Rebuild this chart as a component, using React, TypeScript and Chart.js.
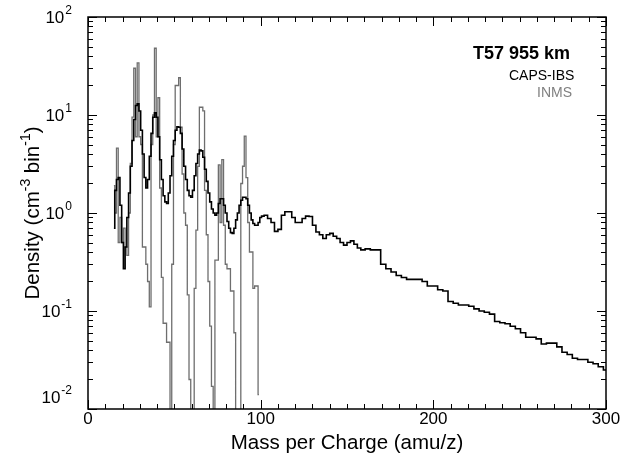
import React, { useEffect, useRef } from 'react';
import { Chart, registerables } from 'chart.js';

Chart.register(...registerables);

// INMS spectrum (1-amu bins)
const inmsMass = [
  15, 16, 17, 18, 19, 20, 21, 22, 23, 24, 25, 26, 27, 28, 29, 30, 31, 32, 33, 34,
  35, 36, 37, 38, 39, 40, 41, 42, 43, 44, 45, 46, 47, 48, 49, 50, 51, 52, 53, 54,
  55, 56, 57, 58, 59, 60, 61, 62, 63, 64, 65, 66, 67, 68, 69, 70, 71, 72, 73, 74,
  75, 76, 77, 78, 79, 80, 81, 82, 83, 84, 85, 86, 87, 88, 89, 90, 91, 92, 93, 94,
  95, 96, 97, 98, 99,
];
const inmsDensity = [
  1.9, 1.0, 4.6, 0.5, 0.9, 0.5, 0.7, 0.45, 0.37, 1.0, 3.2, 9.5, 30, 6, 34, 6, 5, 0.45, 0.45, 0.3,
  0.2, 0.11, 5, 10, 48, 6, 15, 1.8, 0.22, 0.075, 0.075, 0.048, 0.048, 0.001, 0.3, 5, 20, 20, 24, 7.5,
  2.5, 1.0, 0.75, 0.146, 0.02, 0.001, 0.001, 0.17, 0.67, 3, 12, 12, 11, 1.7, 0.6, 0.2, 0.07, 0.017, 0.001, 0.33,
  0.33, 3.1, 0.8, 3.5, 0.75, 0.3, 0.27, 0.27, 0.16, 0.16, 0.06, 0.001, 0.001, 0.001, 2, 3, 6.1, 2.3, 0.8, 0.4,
  0.4, 0.17, 0.18, 0.18, 0.014,
];

// CAPS-IBS spectrum (bin centres)
const capsMass = [
  15, 16, 17, 18, 19, 20, 21, 22, 23, 24, 25, 26, 27, 28, 29, 30, 31, 32, 33, 34,
  35, 36, 37, 38, 39, 40, 41, 42, 43, 44, 45, 46, 47, 48, 49, 50, 51, 52, 53, 54,
  55, 56, 57, 58, 59, 60, 61, 62, 63, 64, 65, 66, 67, 68, 69, 70, 71, 72, 73, 74,
  75, 76, 77, 78, 79, 80, 81, 82, 83, 84, 85, 86, 87, 88, 89, 90, 91, 92, 93, 94,
  95, 96, 97, 98, 99, 100,
  101, 103, 105, 107, 109, 111, 113, 115, 117, 119, 121, 123, 125, 127, 129, 131, 133, 135, 137, 139,
  141, 143, 145, 147, 149, 151, 153, 155, 157, 159,
  162, 165, 168, 171, 174, 177, 180, 183, 186, 189, 192, 195, 198, 201, 204, 207, 210, 213, 216, 219,
  222, 225, 228, 231, 234, 237, 240, 243, 246, 249, 252, 255, 258, 261, 264, 267, 270, 273, 276, 279,
  282, 285, 288, 291, 294, 297, 300,
];
const capsDensity = [
  0.7, 1.7, 2.2, 2.3, 1.2, 0.5, 0.27, 0.45, 0.9, 1.6, 3, 5.5, 9, 12.5, 13, 11, 7, 4, 2.3, 1.8,
  2.2, 3.8, 6.5, 9.5, 10.5, 9.5, 6, 3.5, 2.2, 1.5, 1.3, 1.25, 1.6, 2.4, 3.8, 5.5, 7, 7.6, 7.5, 6.5,
  4.5, 3, 2.2, 1.7, 1.5, 1.45, 1.7, 2.4, 3.2, 4, 4.4, 4.3, 3.7, 2.8, 2.1, 1.6, 1.3, 1.1, 1.0, 0.95,
  1.0, 1.25, 1.4, 1.4, 1.2, 1.0, 0.82, 0.7, 0.63, 0.62, 0.7, 0.85, 1.0, 1.2, 1.35, 1.45, 1.45, 1.4, 1.2, 1.0,
  0.85, 0.78, 0.75, 0.75, 0.8, 0.9,
  0.93, 0.95, 0.88, 0.8, 0.65, 0.68, 0.95, 1.03, 1.03, 0.9, 0.8, 0.8, 0.88, 0.93, 0.92, 0.75, 0.64, 0.6, 0.55, 0.6,
  0.62, 0.58, 0.55, 0.5, 0.47, 0.5, 0.52, 0.48, 0.44, 0.42,
  0.43, 0.42, 0.42, 0.3, 0.27, 0.25, 0.23, 0.22, 0.21, 0.21, 0.21, 0.2, 0.18, 0.18, 0.165, 0.16, 0.125, 0.12, 0.115, 0.115,
  0.112, 0.105, 0.1, 0.097, 0.093, 0.078, 0.076, 0.074, 0.07, 0.066, 0.06, 0.054, 0.054, 0.052, 0.046, 0.047, 0.047, 0.043, 0.038, 0.036,
  0.033, 0.032, 0.032, 0.03, 0.029, 0.027, 0.025,
];

const xTickLabels = [0, 100, 200, 300];
const xMinorStep = 10;
const yDecades = [0.01, 0.1, 1, 10, 100];
const yExponents = ['-2', '-1', '0', '1', '2'];

const FONT = '"Liberation Sans", Arial, Helvetica, sans-serif';

const framePlugin = {
  id: 'framePlugin',
  afterDraw(chart: any) {
    const { ctx, chartArea: a, scales } = chart;
    const xs = scales.x;
    const ys = scales.y;
    ctx.save();
    ctx.strokeStyle = '#000';
    ctx.fillStyle = '#000';

    // frame
    ctx.lineWidth = 1.5;
    ctx.strokeRect(a.left, a.top, a.right - a.left, a.bottom - a.top);

    // x ticks (inward, top and bottom)
    ctx.lineWidth = 1;
    ctx.beginPath();
    for (let v = xs.min; v <= xs.max + 1e-9; v += xMinorStep) {
      const px = Math.round(xs.getPixelForValue(v)) + 0.5;
      const major = xTickLabels.includes(v);
      const len = major ? 9 : 5;
      ctx.moveTo(px, a.bottom);
      ctx.lineTo(px, a.bottom - len);
      ctx.moveTo(px, a.top);
      ctx.lineTo(px, a.top + len);
    }
    // y ticks (inward, left and right)
    yDecades.forEach((d, i) => {
      const py = Math.round(ys.getPixelForValue(d)) + 0.5;
      ctx.moveTo(a.left, py);
      ctx.lineTo(a.left + 9, py);
      ctx.moveTo(a.right, py);
      ctx.lineTo(a.right - 9, py);
      if (i < yDecades.length - 1) {
        for (let k = 2; k <= 9; k++) {
          const pm = Math.round(ys.getPixelForValue(k * d)) + 0.5;
          ctx.moveTo(a.left, pm);
          ctx.lineTo(a.left + 5, pm);
          ctx.moveTo(a.right, pm);
          ctx.lineTo(a.right - 5, pm);
        }
      }
    });
    ctx.stroke();

    // x tick labels
    ctx.font = `17px ${FONT}`;
    ctx.textAlign = 'center';
    ctx.textBaseline = 'middle';
    xTickLabels.forEach((v) => {
      ctx.fillText(String(v), xs.getPixelForValue(v), a.bottom + 10);
    });

    // x title
    ctx.font = `20.5px ${FONT}`;
    ctx.fillText('Mass per Charge (amu/z)', (a.left + a.right) / 2, a.bottom + 34);

    // y tick labels 10^n
    const right = a.left - 16;
    yDecades.forEach((d, i) => {
      let py = ys.getPixelForValue(d);
      if (py > a.bottom - 12) py = a.bottom - 12;
      ctx.font = `12px ${FONT}`;
      const we = ctx.measureText(yExponents[i]).width;
      ctx.font = `17px ${FONT}`;
      const wb = ctx.measureText('10').width;
      ctx.textAlign = 'left';
      ctx.textBaseline = 'middle';
      ctx.fillText('10', right - we - wb - 1, py + 1);
      ctx.font = `12px ${FONT}`;
      ctx.fillText(yExponents[i], right - we, py - 6);
    });

    // y title with superscripts
    const parts: [string, boolean][] = [
      ['Density (cm', false],
      ['-3', true],
      [' bin', false],
      ['-1', true],
      [')', false],
    ];
    const mainFont = `20.5px ${FONT}`;
    const supFont = `14px ${FONT}`;
    let total = 0;
    parts.forEach(([t, s]) => {
      ctx.font = s ? supFont : mainFont;
      total += ctx.measureText(t).width;
    });
    ctx.translate(33, (a.top + a.bottom) / 2);
    ctx.rotate(-Math.PI / 2);
    ctx.textAlign = 'left';
    ctx.textBaseline = 'middle';
    let cx = -total / 2;
    parts.forEach(([t, s]) => {
      ctx.font = s ? supFont : mainFont;
      ctx.fillText(t, cx, s ? -7 : 0);
      cx += ctx.measureText(t).width;
    });
    ctx.setTransform(1, 0, 0, 1, 0, 0);

    // annotation / legend texts
    ctx.textAlign = 'left';
    ctx.textBaseline = 'middle';
    ctx.font = `bold 18px ${FONT}`;
    ctx.fillStyle = '#000';
    ctx.fillText('T57 955 km', a.right - 133, a.top + 37);
    ctx.font = `14px ${FONT}`;
    ctx.fillText('CAPS-IBS', a.right - 97, a.top + 59);
    ctx.fillStyle = '#808080';
    ctx.fillText('INMS', a.right - 69, a.top + 76);
    ctx.restore();
  },
};

export default function App() {
  const ref = useRef<HTMLCanvasElement | null>(null);

  useEffect(() => {
    if (!ref.current) return;
    const caps = capsMass.map((m, i) => ({ x: m, y: capsDensity[i] }));
    const inms = inmsMass.map((m, i) => ({ x: m, y: inmsDensity[i] }));
    const chart = new Chart(ref.current, {
      type: 'line',
      data: {
        datasets: [
          {
            label: 'CAPS-IBS',
            data: caps,
            borderColor: '#000000',
            borderWidth: 1.6,
            stepped: 'middle',
            pointRadius: 0,
            fill: false,
            order: 0,
          },
          {
            label: 'INMS',
            data: inms,
            borderColor: '#6e6e6e',
            borderWidth: 1.3,
            stepped: 'middle',
            pointRadius: 0,
            fill: false,
            order: 1,
          },
        ],
      },
      options: {
        responsive: false,
        animation: false,
        devicePixelRatio: 1,
        layout: { padding: { left: 88, right: 16, top: 17, bottom: 54 } },
        plugins: { legend: { display: false }, tooltip: { enabled: false } },
        scales: {
          x: { type: 'linear', min: 0, max: 300, display: false },
          y: { type: 'logarithmic', min: 0.01, max: 100, display: false },
        },
      },
      plugins: [framePlugin],
    } as any);
    return () => chart.destroy();
  }, []);

  return (
    <div style={{ position: 'fixed', left: 0, top: 0, width: 622, height: 463, background: '#fff' }}>
      <canvas ref={ref} width={622} height={463} style={{ width: 622, height: 463 }} />
    </div>
  );
}
